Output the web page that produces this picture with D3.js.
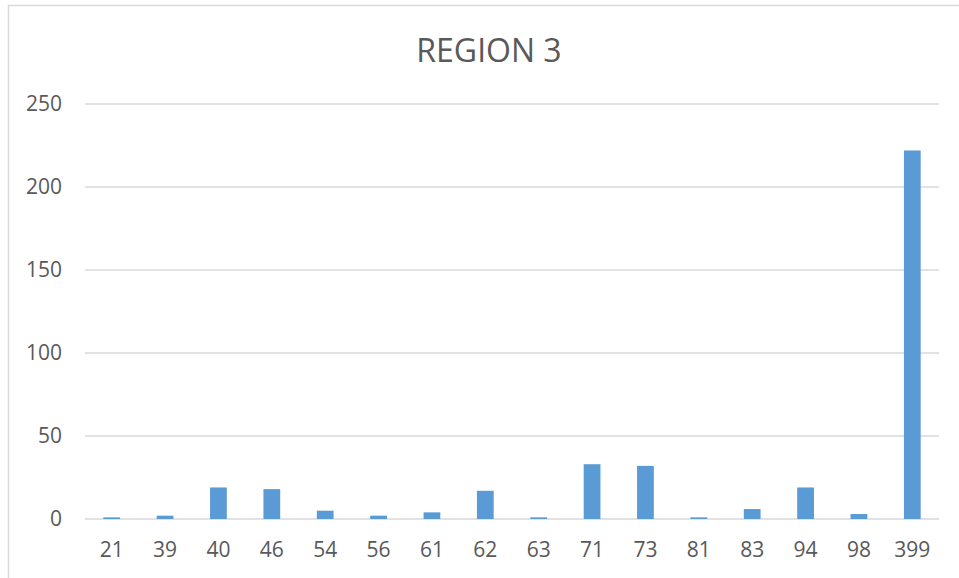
<!DOCTYPE html>
<html>
<head>
<meta charset="utf-8">
<script src="https://cdn.jsdelivr.net/npm/d3@7"></script>
<style>
  body { margin: 0; background: #fff; }
  svg { display: block; }
</style>
</head>
<body>
<div class="chart"></div>
<script>
let categories = ["21", "39", "40", "46", "54", "56", "61", "62", "63", "71", "73", "81", "83", "94", "98", "399"]
let values = [1, 2, 19, 18, 5, 2, 4, 17, 1, 33, 32, 1, 6, 19, 3, 222]
let y_ticks = [0, 50, 100, 150, 200, 250]
let title = "REGION 3"

let width = 959
let height = 578
let margin = {top: 104, right: 20, bottom: 59, left: 85}
let text_color = "#595959"
let font = "'Open Sans', 'Liberation Sans', sans-serif"

let svg = d3.select(".chart")
    .append("svg")
        .attr("width", width)
        .attr("height", height)

// chart frame
svg.append("rect")
    .attr("x", 8.5)
    .attr("y", 5.5)
    .attr("width", width + 10)
    .attr("height", height + 10)
    .attr("fill", "none")
    .attr("stroke", "#d9d9d9")
    .attr("stroke-width", 1.5)

let x = d3.scaleBand()
    .domain(categories)
    .range([margin.left, width - margin.right])
    .paddingInner(0.686)
    .paddingOuter(0.343)

let y = d3.scaleLinear()
    .domain([0, 250])
    .range([height - margin.bottom, margin.top])

// gridlines
svg.append("g")
    .selectAll("line")
    .data(y_ticks)
    .enter()
    .append("line")
        .attr("x1", margin.left)
        .attr("x2", width - margin.right)
        .attr("y1", d => y(d))
        .attr("y2", d => y(d))
        .attr("stroke", "#d9d9d9")
        .attr("stroke-width", 1.3)

let y_axis = svg.append("g")
    .attr("transform", "translate(" + (margin.left - 23) + ",0)")
    .call(d3.axisLeft(y).tickValues(y_ticks).tickSize(0).tickPadding(0))
y_axis.select(".domain").remove()
y_axis.selectAll("text")
    .attr("fill", text_color)
    .style("font-family", font)
    .style("font-size", "21px")

svg.append("g")
    .selectAll("rect")
    .data(values)
    .enter()
    .append("rect")
        .attr("x", (d, i) => x(categories[i]))
        .attr("y", d => y(d))
        .attr("width", x.bandwidth())
        .attr("height", d => y(0) - y(d))
        .attr("fill", "#5b9bd5")

let x_axis = svg.append("g")
    .attr("transform", "translate(0," + (height - margin.bottom) + ")")
    .call(d3.axisBottom(x).tickSize(0).tickPadding(23))
x_axis.select(".domain").remove()
x_axis.selectAll("text")
    .attr("fill", text_color)
    .style("font-family", font)
    .style("font-size", "21px")

svg.append("text")
    .attr("x", 489)
    .attr("y", 62)
    .attr("text-anchor", "middle")
    .attr("fill", text_color)
    .style("font-family", font)
    .style("font-size", "32px")
    .text(title)
</script>
</body>
</html>
